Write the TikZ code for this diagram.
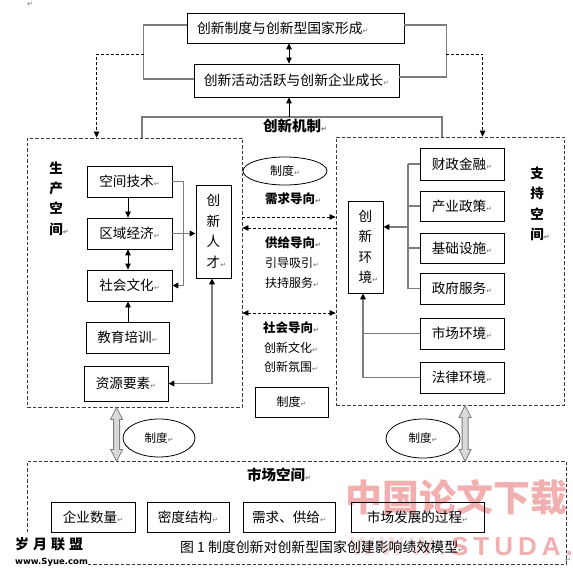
\documentclass[tikz,border=0pt]{standalone}
\usepackage{fontspec}
\setmainfont{Noto Sans CJK SC}
\newfontfamily\djv{DejaVu Sans}
\newfontfamily\lsb{Liberation Sans}
\usetikzlibrary{arrows.meta,shapes.geometric,calc}
\definecolor{lgray}{RGB}{125,125,125}
\definecolor{rtgray}{RGB}{110,110,110}
\definecolor{bordc}{RGB}{60,60,60}
\definecolor{wmpink}{RGB}{242,175,175}
\definecolor{wmlight}{RGB}{247,222,222}
\newcommand\rt{{\djv\fontsize{7}{7}\selectfont\textcolor{rtgray}{↵}}}
\newcommand\hs{\hspace{5pt}}
\newcommand\fsA{\fontsize{13.6}{16}\selectfont}
\newcommand\fsV{\fontsize{13.6}{20.5}\selectfont}
\newcommand\fsM{\fontsize{12}{14}\selectfont}
\begin{document}
\begin{tikzpicture}[x=1pt,y=-1pt,
  bx/.style={draw, line width=0.8pt, inner sep=0pt, align=center, font=\fsA},
  vbx/.style={draw, line width=0.8pt, inner sep=0pt, align=center, font=\fsV},
  space/.style={draw=bordc, line width=0.8pt, dash pattern=on 3.5pt off 2pt, inner sep=0pt},
  txt/.style={inner sep=0pt, anchor=west, font=\fsM},
  btxt/.style={inner sep=0pt, anchor=west, font=\fontsize{12.5}{14}\selectfont\bfseries},
  tip/.style={-{Triangle[length=6pt,width=5.5pt,color=black]}},
  tips/.style={{Triangle[length=6pt,width=5.5pt,color=black]}-{Triangle[length=6pt,width=5.5pt,color=black]}},
  blk/.style={draw=black, line width=0.8pt},
  gl/.style={draw=lgray, line width=1.5pt},
  dsh/.style={draw=black, line width=0.8pt, dash pattern=on 3pt off 2pt},
  hollow/.style={draw=lgray, line width=0.8pt, fill=gray!30},
  ell/.style={draw, ellipse, line width=0.8pt, inner sep=0pt, font=\fsM}
]
\useasboundingbox (0,0) rectangle (573,572);

% faint watermark behind everything
\node[anchor=west, inner sep=0pt, font=\fontsize{37}{37}\selectfont\bfseries, text=wmpink] (wm1) at (345,497) {中国论文下载};
\node[anchor=west, inner sep=0pt, font=\lsb\bfseries\fontsize{26}{26}\selectfont] (wm2) at (350,547)
  {\textcolor{wmlight}{W\hs W\hs W\hs .}\hs\textcolor{wmpink}{S\hs T\hs U\hs D\hs A\hs .}};

\node[inner sep=0pt] (topmark) at (30,4) {\rt};

% top boxes
\node[bx, minimum width=217pt, minimum height=30pt, text width=197pt, inner xsep=10pt, align=left, font=\fontsize{13.8}{16}\selectfont] (n1) at (295.5,28) {创新制度与创新型国家形成\rt};
\node[bx, minimum width=205pt, minimum height=33pt, font=\fontsize{13.8}{16}\selectfont] (n2) at (296.5,80.5) {创新活动活跃与创新企业成长\rt};

% spaces
\node[space, minimum width=215pt, minimum height=269pt] (prod) at (134.5,272.5) {};
\node[space, minimum width=228pt, minimum height=268pt] (sup) at (450,271) {};
\node[space, minimum width=539pt, minimum height=103pt] (mkt) at (296.5,512.5) {};

% coordinates
\coordinate (ax) at (289,0);
\coordinate (jzl) at (142,117);
\coordinate (jzr) at (442,117);
\coordinate (bl) at (144,54);
\coordinate (br) at (446,54);
\coordinate (sp) at (408,0);
\coordinate (ay) at (0,227);
\coordinate (lx) at (363,0);
\coordinate (d1) at (0,217);
\coordinate (d2) at (0,228);
\coordinate (d3) at (0,313);

% top connectors
\draw[blk, tips] (n1.south -| ax) -- (n2.north -| ax);
\draw[gl] ([yshift=3pt]n1.west) -- ++(-43,0) |- ([yshift=1.5pt]n2.west);
\draw[gl] ([yshift=3pt]n1.east) -- ++(42,0) |- ([yshift=3.5pt]n2.east);
\draw[dsh, tip] (bl) -| ($(prod.north west)+(70,0)$);
\draw[dsh, tip] (br) -| ($(sup.north west)+(147,0)$);

% innovation mechanism bracket
\draw[gl] (jzl |- prod.north) -- (jzl) -- (jzr) -- (jzr |- sup.north);
\draw[blk, tip] (ax |- jzl) -- (n2.south -| ax);
\node[btxt, font=\fontsize{14.5}{16}\selectfont\bfseries] (jz) at (263,126) {创新机制\rt};

% production space
\node[inner sep=0pt, align=center, font=\fontsize{13.5}{20.3}\selectfont\bfseries] (sclabel) at (56,198.5) {生\\产\\空\\间\rlap{\rt}};
\node[bx, minimum width=85pt, minimum height=31pt] (stj) at (129.5,181.5) {空间技术\rt};
\node[bx, minimum width=85pt, minimum height=31pt] (qyjj) at (129.5,233.5) {区域经济\rt};
\node[bx, minimum width=85pt, minimum height=31pt] (shwh) at (129.5,285.5) {社会文化\rt};
\node[bx, minimum width=83pt, minimum height=31pt] (jypx) at (127.5,337.5) {教育培训\rt};
\node[bx, minimum width=84pt, minimum height=35pt] (zyys) at (126,383.5) {资源要素\rt};
\node[vbx, minimum width=35pt, minimum height=93pt] (cxrc) at (213.5,231.5) {创\\新\\人\\才\rlap{\rt}};

\draw[blk, tip] ([xshift=-1.5pt]stj.south) -- ([xshift=-1.5pt]qyjj.north);
\draw[blk, tips] ([xshift=-1.5pt]qyjj.south) -- ([xshift=-1.5pt]shwh.north);
\draw[blk, tip] ([xshift=0.5pt]jypx.north) -- ([xshift=0.5pt]jypx.north |- shwh.south);
\draw[gl, tip] (stj.east) -- ++(11,0) |- (shwh.east);
\draw[gl, tip] (qyjj.east) -- (cxrc.west |- qyjj.east);
\draw[gl, tips] (zyys.east) -| ([xshift=-1.5pt]cxrc.south);

% middle column
\node[ell, minimum width=84pt, minimum height=28pt] (e1) at (285,171) {制度\rt};
\node[btxt] (xq) at (265,199) {需求导向\rt};
\draw[dsh, tip] (prod.east |- d1) -- (sup.west |- d1);
\draw[dsh, tip] (sup.west |- d2) -- (prod.east |- d2);
\node[btxt] (gj) at (265,243) {供给导向\rt};
\node[txt] (ydxy) at (265,263) {引导吸引\rt};
\node[txt] (fcfw) at (265,283) {扶持服务\rt};
\draw[dsh, tips] (prod.east |- d3) -- (sup.west |- d3);
\node[btxt] (sh) at (263,328) {社会导向\rt};
\node[txt] (cxwh) at (264,348) {创新文化\rt};
\node[txt] (cxfw) at (264,367) {创新氛围\rt};
\node[bx, minimum width=73pt, minimum height=30pt, font=\fsM] (zdbox) at (291.5,402) {制度\rt};

% support space
\node[inner sep=0pt, align=center, font=\fontsize{13.5}{20.5}\selectfont\bfseries] (zclabel) at (537,204) {支\\持\\空\\间\rlap{\rt}};
\node[vbx, minimum width=35pt, minimum height=92pt] (cxhj) at (365.5,247) {创\\新\\环\\境\rlap{\rt}};
\node[bx, minimum width=84pt, minimum height=32pt] (czjr) at (462,164) {财政金融\rt};
\node[bx, minimum width=84pt, minimum height=30pt] (cyzc) at (462,206) {产业政策\rt};
\node[bx, minimum width=84pt, minimum height=30pt] (jcss) at (462,248) {基础设施\rt};
\node[bx, minimum width=84pt, minimum height=31pt] (zffw) at (462,288.5) {政府服务\rt};
\node[bx, minimum width=84pt, minimum height=31pt] (schj) at (462,333.5) {市场环境\rt};
\node[bx, minimum width=84pt, minimum height=31pt] (flhj) at (462,377.5) {法律环境\rt};

\draw[gl] (sp |- czjr.west) -- (sp |- zffw.west);
\draw[gl] (sp |- czjr.west) -- (czjr.west);
\draw[gl] (sp |- cyzc.west) -- (cyzc.west);
\draw[gl] (sp |- jcss.west) -- (jcss.west);
\draw[gl] (sp |- zffw.west) -- (zffw.west);
\draw[gl, tip] (sp |- ay) -- (cxhj.east |- ay);
\draw[gl] (schj.west) -- (lx |- schj.west);
\draw[gl, tip] (flhj.west) -- (lx |- flhj.west) -- (lx |- cxhj.south);

% bottom: institution links to market space
\coordinate (lat) at ($(prod.south west)+(90,0)$);
\coordinate (rat) at ($(sup.south west)+(129.5,0)$);
\draw[hollow, shift={(lat)}] (0,0) -- (6,12) -- (3,12) -- (3,42) -- (6,42) -- (0,54) -- (-6,42) -- (-3,42) -- (-3,12) -- (-6,12) -- cycle;
\draw[hollow, shift={(rat)}] (0,0) -- (6,12) -- (3,12) -- (3,44) -- (6,44) -- (0,56) -- (-6,44) -- (-3,44) -- (-3,12) -- (-6,12) -- cycle;
\node[ell, minimum width=72pt, minimum height=38pt, font=\fontsize{11.5}{13}\selectfont] (e2) at (159,438) {制度\rt};
\node[ell, minimum width=74pt, minimum height=39pt, font=\fontsize{11.5}{13}\selectfont] (e3) at (423,438.5) {制度\rt};

% market space
\node[btxt, font=\fontsize{14.5}{16}\selectfont\bfseries] (mktl) at (247,475) {市场空间\rt};
\node[bx, minimum width=84pt, minimum height=30pt] (qysl) at (93,517) {企业数量\rt};
\node[bx, minimum width=82pt, minimum height=30pt] (mdjg) at (188,517) {密度结构\rt};
\node[bx, minimum width=92pt, minimum height=30pt] (xqgj) at (289,517) {需求、供给\rt};
\node[bx, minimum width=133pt, minimum height=30pt] (scfz) at (417.5,517) {市场发展的过程\rt};
\node[txt, font=\fontsize{13.9}{16}\selectfont] (cap) at (180,547) {图 1 制度创新对创新型国家创建影响绩效模型\rt};
\node[inner sep=0pt] (endmark) at (568,560) {\rt};

% site mark bottom left
\fill[white] (12,534) rectangle (88,572);
\node[inner sep=0pt, anchor=west, font=\fontsize{14}{16}\selectfont\bfseries] (syl) at (15,544) {岁\hspace{4pt}月\hspace{4pt}联\hspace{4pt}盟};
\node[inner sep=0pt, anchor=west, font=\djv\bfseries\fontsize{8.5}{9}\selectfont] (syu) at (15,562) {www.Syue.com};
\end{tikzpicture}
\end{document}
